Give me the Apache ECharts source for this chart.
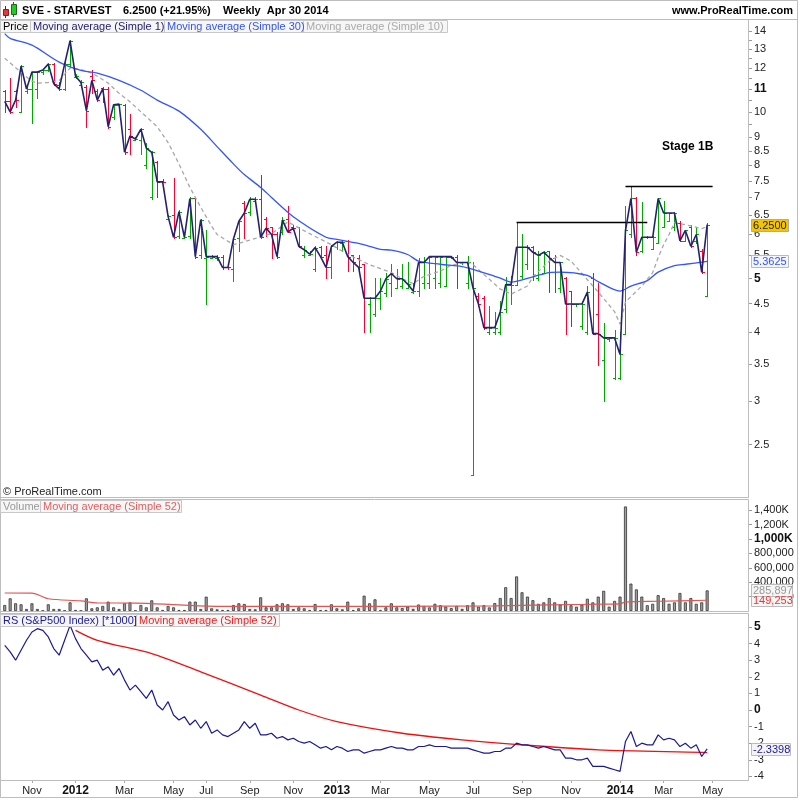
<!DOCTYPE html>
<html><head><meta charset="utf-8">
<script src="https://cdn.jsdelivr.net/npm/echarts@6/dist/echarts.min.js"></script>
<style>html,body{margin:0;padding:0;background:#fff}#c{width:800px;height:800px}</style>
</head><body><div id="c"></div><script>
const dates = ['2011-10-03','2011-10-10','2011-10-17','2011-10-24','2011-10-31','2011-11-07','2011-11-14','2011-11-21','2011-11-28','2011-12-05','2011-12-12','2011-12-19','2011-12-26',
'2012-01-02','2012-01-09','2012-01-16','2012-01-23','2012-01-30','2012-02-06','2012-02-13','2012-02-20','2012-02-27','2012-03-05','2012-03-12','2012-03-19','2012-03-26','2012-04-02','2012-04-09','2012-04-16','2012-04-23','2012-04-30','2012-05-07','2012-05-14','2012-05-21','2012-06-04','2012-06-11','2012-06-25','2012-07-02','2012-07-09','2012-07-16','2012-07-23','2012-07-30','2012-08-06','2012-08-20','2012-08-27','2012-09-03','2012-09-10','2012-09-17','2012-09-24','2012-10-01','2012-10-15','2012-10-22','2012-10-29','2012-11-05','2012-11-12','2012-11-19','2012-11-26','2012-12-03','2012-12-10','2012-12-17','2012-12-31',
'2013-01-07','2013-01-14','2013-01-21','2013-01-28','2013-02-04','2013-02-11','2013-02-18','2013-02-25','2013-03-04','2013-03-11','2013-03-18','2013-03-25','2013-04-01','2013-04-08','2013-04-15','2013-04-22','2013-04-29','2013-05-06','2013-05-13','2013-05-20','2013-05-27','2013-06-03','2013-06-10','2013-06-17','2013-06-24','2013-07-01','2013-07-08','2013-07-15','2013-07-22','2013-07-29','2013-08-05','2013-08-12','2013-08-19','2013-08-26','2013-09-02','2013-09-09','2013-09-16','2013-09-23','2013-09-30','2013-10-07','2013-10-14','2013-10-21','2013-10-28','2013-11-04','2013-11-11','2013-11-18','2013-11-25','2013-12-02','2013-12-09','2013-12-16','2013-12-23','2013-12-30',
'2014-01-06','2014-01-13','2014-01-20','2014-01-27','2014-02-03','2014-02-10','2014-02-17','2014-02-24','2014-03-03','2014-03-10','2014-03-17','2014-03-24','2014-03-31','2014-04-07','2014-04-14','2014-04-21','2014-04-28','2014-05-05','2014-05-12','2014-05-19','2014-05-26','2014-06-02','2014-06-09','2014-06-16'];

const opens = [10.9,10.45,10.9,10.0,10.9,11.0,11.0,11.8,11.9,12.2, 11.2,11.0,12.2,11.55,11.2,11.1,11.6,10.9,11.05,11.0, 9.8,10.3,10.3,9.3,8.9,8.9,8.0,7.0,8.1,7.5, 6.4,6.5,5.95,5.9,5.95,6.97,5.5,5.45,5.45,5.45, 5.47,5.25,5.2,5.9,6.85,6.6,6.9,6.95,6.4,6.2, 6.0,6.05,6.4,6.2,6.2,5.5,5.5,5.2,5.7,5.5, 5.25,5.7,5.8,5.85,5.5,5.45,5.3,4.5,4.3,4.6, 4.7,4.9,4.8,4.85,4.8,4.72,4.75,4.9,4.9,5.0, 4.9,4.85,5.47,5.47,5.34,4.9,2.2,4.65,4.6,4.0, 4.0,4.0,4.4,4.87,4.87,5.05,5.3,5.7,5.0,5.1, 5.6,5.45,4.8,5.0,4.75,4.49,4.1,4.0,5.0,4.3, 3.55,3.88,3.3,3.3,3.97,6.0,6.97,5.6,5.93,5.65, 5.8,6.2,6.35,6.2,6.3,5.85,6.2,5.85,5.6,4.65];
const highs = [10.95,11.5,10.95,12.15,11.1,11.8,11.85,11.9,12.25,12.25, 11.3,12.3,13.5,11.7,11.4,11.2,11.9,11.0,11.1,11.1, 10.35,10.35,10.35,9.9,9.0,9.35,8.8,8.5,8.15,7.55, 6.5,7.6,6.65,6.0,7.0,7.0,6.4,6.1,5.5,5.5, 5.5,5.25,5.9,6.35,6.9,7.0,7.0,7.7,6.45,6.2, 6.05,6.45,6.75,6.25,6.2,5.72,5.6,5.72,5.72,5.72, 5.75,5.85,5.85,5.87,5.5,5.5,5.3,4.62,5.0,5.0, 5.1,5.3,5.2,5.3,5.35,4.9,5.45,5.47,5.48,5.48, 5.48,5.48,5.48,5.5,5.34,5.48,5.34,4.7,4.65,4.45, 4.35,4.55,5.03,5.05,6.32,6.0,5.75,5.72,5.6,5.6, 5.6,5.5,5.36,5.02,4.75,4.5,4.5,4.85,5.1,4.9, 4.15,3.92,4.03,4.0,6.75,7.33,7.0,6.87,5.95,5.95, 6.98,6.9,6.56,6.6,6.35,6.1,6.25,6.2,5.65,6.3];
const lows = [10.0,9.95,10.2,10.0,10.8,9.55,10.6,11.7,11.85,11.2, 10.95,10.95,12.1,11.5,11.2,9.4,10.8,10.45,10.4,9.35, 9.7,10.3,8.4,8.4,8.9,8.4,7.9,6.95,7.0,7.45, 6.4,5.9,5.9,5.9,5.9,5.45,5.45,4.5,5.45,5.4, 5.2,5.2,4.95,5.6,5.9,6.5,6.9,5.9,5.95,5.45, 5.45,6.0,6.05,6.1,5.7,5.47,5.5,5.15,5.45,5.0, 5.0,5.65,5.6,5.15,5.15,5.15,4.0,4.0,4.27,4.4, 4.65,4.65,4.8,4.8,4.8,4.7,4.65,4.8,4.8,4.8, 4.82,4.85,5.45,4.8,5.3,4.8,2.2,4.45,4.05,3.97, 3.97,3.97,4.35,4.5,4.87,5.0,5.2,4.97,4.97,5.1, 4.73,4.73,4.73,3.97,4.1,4.45,4.05,3.97,3.97,3.49, 3.0,3.85,3.29,3.29,3.97,5.93,5.5,5.57,5.9,5.65, 5.8,6.2,6.35,6.1,5.84,5.84,5.7,5.8,5.1,4.65];
const closes = [10.45,10.0,10.5,12.1,11.0,11.8,11.8,11.9,12.2,11.25, 11.0,12.2,13.45,11.6,11.3,10.05,11.4,10.5,11.0,9.4, 10.3,10.33,8.45,9.04,8.93,9.3,8.6,8.45,7.47,7.47, 6.47,5.93,6.6,5.93,6.97,5.47,6.38,5.47,5.47,5.47, 5.23,5.23,5.89,6.34,6.56,6.95,6.95,5.93,6.16,6.0, 5.47,6.37,6.06,6.16,5.71,5.63,5.53,5.68,5.47,5.23, 5.71,5.81,5.81,5.47,5.34,5.23,4.6,4.6,4.6,4.74, 4.99,5.1,4.99,4.99,4.88,4.74,5.34,5.34,5.47,5.47, 5.47,5.47,5.47,5.34,5.34,5.34,4.8,4.49,4.07,4.07, 4.07,4.35,4.87,4.87,5.69,5.69,5.69,5.57,5.5,5.57, 5.45,5.34,5.34,4.49,4.49,4.49,4.49,4.72,3.97,3.97, 3.9,3.9,3.9,3.64,6.1,6.97,5.57,5.93,5.93,5.93, 6.97,6.56,6.56,6.56,5.84,6.1,5.71,6.0,5.125,6.25];

const ma30 = [[0,13.85],[1,13.58],[5,13.2],[10,12.3],[14,11.88],[17,11.75],[21,11.4],[25,10.94],[28,10.5],[32,10.03],[36,9.3],[39,8.65],[42,8.05],[44,7.7],[47,7.3],[49,7.0],[53,6.46],[59,5.93],[61,5.88],[65,5.78],[69,5.64],[71,5.62],[74,5.52],[76,5.37],[80,5.3],[84,5.25],[86,5.19],[90,5.04],[91,5.0],[93,4.92],[97,5.03],[100,5.12],[102,5.13],[107,5.06],[109,4.93],[113,4.74],[115,4.84],[118,4.95],[120,5.13],[123,5.27],[125,5.3],[129,5.3625]];
const ma10 = [[0,12.5],[3,11.79],[5,11.36],[6,11.27],[8,11.3],[10,11.4],[12,12.0],[14,11.93],[16,11.75],[17,11.6],[19,11.27],[21,10.8],[23,10.43],[25,10.0],[27,9.6],[28,9.4],[30,8.8],[32,8.05],[34,7.3],[36,6.72],[38,6.21],[39,6.0],[42,5.75],[44,5.82],[47,5.94],[49,6.02],[52,6.32],[56,6.02],[60,5.75],[63,5.52],[67,5.29],[71,5.12],[73,4.99],[75,4.89],[77,5.04],[80,5.15],[82,5.28],[85,5.35],[86,5.29],[88,5.08],[91,4.78],[93,4.68],[96,4.84],[97,5.03],[100,5.37],[102,5.5],[104,5.37],[106,5.1],[109,4.72],[112,4.35],[113,4.13],[114,4.53],[117,4.84],[119,5.12],[120,5.45],[121,5.75],[122,6.0],[123,6.3],[125,6.25],[128,6.15],[129,6.2]];

const volumes = [83000,176000,107000,93000,28000,107000,28000,5000,93000,28000, 28000,5000,120000,14000,5000,176000,37000,51000,70000,130000, 51000,28000,107000,120000,5000,83000,51000,148000,51000,14000, 70000,51000,14000,14000,130000,130000,28000,199000,37000,23000, 14000,14000,83000,107000,97000,28000,23000,190000,51000,51000, 93000,107000,93000,28000,51000,37000,14000,97000,14000,14000, 93000,37000,23000,130000,14000,37000,213000,107000,162000,14000, 51000,107000,51000,40000,60000,30000,90000,70000,50000,100000, 80000,60000,40000,70000,30000,80000,120000,60000,80000,50000, 110000,180000,330000,180000,480000,260000,200000,150000,100000,120000, 180000,120000,90000,140000,80000,60000,90000,170000,120000,200000, 280000,60000,140000,200000,1450000,380000,300000,200000,80000,100000, 220000,180000,100000,120000,250000,120000,180000,100000,120000,285897];
const volMa52 = [[0,250000],[5,248000],[8,170000],[14,140000],[17,112000],[24,110000],[32,85000],[39,65000],[72,65000],[90,72000],[100,85000],[110,95000],[113,100000],[114,125000],[120,135000],[129,149253]];

const rs = [3.9,3.5,3.0,3.6,4.2,4.7,4.9,4.8,4.4,3.7, 3.3,4.2,5.1,4.3,3.7,3.3,2.9,3.0,2.4,2.6, 2.1,2.5,1.8,1.2,1.5,1.1,0.7,1.2,0.3,0.0, 0.5,-0.3,-0.6,-0.4,-0.9,-0.6,-1.1,-0.7,-1.4,-1.2, -1.5,-1.6,-1.4,-1.2,-0.7,-1.1,-0.8,-1.5,-1.5,-1.4, -1.7,-1.6,-1.8,-1.7,-1.9,-2.0,-1.9,-2.1,-2.3,-2.2, -2.4,-2.2,-2.3,-2.5,-2.4,-2.4,-2.6,-2.5,-2.4,-2.4, -2.3,-2.2,-2.3,-2.3,-2.4,-2.4,-2.2,-2.2,-2.1,-2.2, -2.2,-2.2,-2.3,-2.3,-2.3,-2.3,-2.4,-2.5,-2.6,-2.6, -2.5,-2.5,-2.3,-2.3,-2.0,-2.1,-2.1,-2.2,-2.3,-2.2, -2.3,-2.4,-2.4,-2.9,-2.9,-3.0,-3.0,-2.9,-3.4,-3.4, -3.4,-3.5,-3.6,-3.7,-1.9,-1.3,-2.2,-2.0,-2.1,-2.1, -1.5,-1.8,-1.7,-1.8,-2.2,-2.0,-2.3,-2.1,-2.8,-2.3398];
const rsMa52 = [[13,4.8],[17,4.2],[27,3.4],[36,2.3],[47,0.9],[54,0.0],[61,-0.7],[73,-1.4],[84,-1.8],[95,-2.1],[109,-2.4],[128,-2.55],[129,-2.57]];

const levels = [[94,118,6.32],[114,130,7.33]];
const priceTicks = [14,13.5,13,12.5,12,11.5,11,10.5,10,9.5,9,8.5,8,7.5,7,6.5,6,5.5,5,4.5,4,3.5,3,2.5];
const priceLabels = [14,13,12,11,10,9,8.5,8,7.5,7,6.5,6,5.5,5,4.5,4,3.5,3,2.5];
const volLabels = [200000,400000,600000,800000,1000000,1200000,1400000];
const rsLabels = [5,4,3,2,1,0,-1,-2,-3,-4];
const monthNames = ['Jan','Feb','Mar','Apr','May','Jun','Jul','Aug','Sep','Oct','Nov','Dec'];

const FONT = '"Liberation Sans", Arial, Helvetica, sans-serif';
const UP = '#00a800', DOWN = '#ff0033';
const chart = echarts.init(document.getElementById('c'), null, {width:800, height:800});

function isMonthLabel(idx) {
  if (idx === 0) return false;
  const m = +dates[idx].slice(5,7), pm = +dates[idx-1].slice(5,7);
  return m !== pm && m % 2 === 1;
}
const ohlc = closes.map((c,i)=>[i, opens[i], highs[i], lows[i], c]);
function renderBar(params, api) {
  const i = api.value(0), o = api.value(1), h = api.value(2), l = api.value(3), c = api.value(4);
  const ph = api.coord([i,h]), pl = api.coord([i,l]), po = api.coord([i,o]), pc = api.coord([i,c]);
  const x = Math.round(ph[0]) + 0.5;
  const st = {stroke: c >= o ? UP : DOWN, lineWidth: 1};
  const yo = Math.round(po[1]) + 0.5, yc = Math.round(pc[1]) + 0.5;
  return {type:'group', children:[
    {type:'line', shape:{x1:x, y1:Math.round(ph[1]), x2:x, y2:Math.round(pl[1])+1}, style:st},
    {type:'line', shape:{x1:x-2.5, y1:yo, x2:x, y2:yo}, style:st},
    {type:'line', shape:{x1:x, y1:yc, x2:x+2.5, y2:yc}, style:st}
  ]};
}
const axisLab = {fontSize:11, color:'#222', fontFamily:FONT, margin:6};
const hiddenX = (g)=>({type:'category', gridIndex:g, data:dates, boundaryGap:true, show:false});

const option = {
  animation:false,
  backgroundColor:'#fff',
  textStyle:{fontFamily:FONT},
  grid:[
    {left:2, right:52, top:20, height:477, outerBoundsMode:'none'},
    {left:2, right:52, top:500, height:111, outerBoundsMode:'none'},
    {left:2, right:52, top:614, height:166, outerBoundsMode:'none'}
  ],
  xAxis:[hiddenX(0), hiddenX(1), {
    type:'category', gridIndex:2, data:dates, boundaryGap:true, position:'bottom',
    axisLine:{show:true, onZero:false, lineStyle:{color:'#aaa'}},
    axisTick:{show:true, interval:(i)=>isMonthLabel(i), alignWithLabel:true, length:3, lineStyle:{color:'#aaa'}},
    axisLabel:{interval:(i)=>isMonthLabel(i), fontSize:11, color:'#222', fontFamily:FONT, margin:5,
      formatter:(v)=>{const m=+v.slice(5,7); return m===1 ? '{b|'+v.slice(0,4)+'}' : monthNames[m-1];},
      rich:{b:{fontWeight:'bold', fontSize:12, color:'#111', fontFamily:FONT}}},
    splitLine:{show:false}
  }],
  yAxis:[
    {type:'log', logBase:10, gridIndex:0, position:'right', min:2.01, max:14.66,
     axisLine:{show:true, lineStyle:{color:'#aaa'}},
     axisTick:{show:true, length:4, customValues:priceTicks, lineStyle:{color:'#999'}},
     axisLabel:Object.assign({}, axisLab, {customValues:priceLabels,
       formatter:(v)=>{const r=+(+v).toFixed(2); return (r===11||r===5)?'{b|'+r+'}':String(r);},
       rich:{b:{fontWeight:'bold', fontSize:12, color:'#111', fontFamily:FONT}}}),
     splitLine:{show:false}, minorTick:{show:false}, minorSplitLine:{show:false}},
    {type:'value', gridIndex:1, position:'right', min:0, max:1540000,
     axisLine:{show:true, lineStyle:{color:'#aaa'}},
     axisTick:{show:true, length:4, customValues:volLabels, lineStyle:{color:'#999'}},
     axisLabel:Object.assign({}, axisLab, {customValues:volLabels,
       formatter:(v)=>{ if (v>=1000000){const s=(v/1000).toLocaleString('en-US')+'K'; return v===1000000?'{b|'+s+'}':s;} return v.toLocaleString('en-US');},
       rich:{b:{fontWeight:'bold', fontSize:12, color:'#111', fontFamily:FONT}}}),
     splitLine:{show:false}},
    {type:'value', gridIndex:2, position:'right', min:-4.217, max:5.783,
     axisLine:{show:true, lineStyle:{color:'#aaa'}},
     axisTick:{show:true, length:4, customValues:rsLabels, lineStyle:{color:'#999'}},
     axisLabel:Object.assign({}, axisLab, {customValues:rsLabels,
       formatter:(v)=> (v===5||v===0)?'{b|'+v+'}':String(v),
       rich:{b:{fontWeight:'bold', fontSize:12, color:'#111', fontFamily:FONT}}}),
     splitLine:{show:false}}
  ],
  series:[
    {type:'custom', name:'Price', xAxisIndex:0, yAxisIndex:0, renderItem:renderBar, data:ohlc, encode:{x:0, y:[1,2,3,4]}, z:2},
    {type:'line', name:'MA10', xAxisIndex:0, yAxisIndex:0, data:ma10, showSymbol:false, symbol:'none',
     lineStyle:{color:'#a8a8a8', width:1.3, type:[4,3]}, z:3},
    {type:'line', name:'MA30', xAxisIndex:0, yAxisIndex:0, data:ma30, showSymbol:false, symbol:'none', smooth:0.3,
     lineStyle:{color:'#3355ff', width:1.3}, z:4},
    {type:'line', name:'Close', xAxisIndex:0, yAxisIndex:0, data:closes, showSymbol:false, symbol:'none',
     lineStyle:{color:'#222270', width:1.6}, z:5,
     markLine:{silent:true, symbol:'none', animation:false, label:{show:false},
       lineStyle:{color:'#000', width:1.4, type:'solid'},
       data:levels.map(([a,b,v])=>[{coord:[dates[a],v]},{coord:[dates[b],v]}])}},
    {type:'bar', name:'Volume', xAxisIndex:1, yAxisIndex:1, data:volumes, barWidth:3,
     itemStyle:{color:'#a0a0a0', borderColor:'#333', borderWidth:0.8}, z:2},
    {type:'line', name:'VolMA', xAxisIndex:1, yAxisIndex:1, data:volMa52, showSymbol:false, symbol:'none', smooth:0.3,
     lineStyle:{color:'#e05555', width:1.2}, z:3},
    {type:'line', name:'RS', xAxisIndex:2, yAxisIndex:2, data:rs, showSymbol:false, symbol:'none',
     lineStyle:{color:'#1a1a99', width:1.2}, z:3},
    {type:'line', name:'RSMA', xAxisIndex:2, yAxisIndex:2, data:rsMa52, showSymbol:false, symbol:'none', smooth:0.3,
     lineStyle:{color:'#ee1111', width:1.3}, z:2}
  ]
};
chart.setOption(option);

function legendBox(x, y, w, text, color) {
  return [
    {type:'rect', shape:{x:x+0.5, y:y+0.5, width:w, height:12}, style:{fill:'#f6f6f6', stroke:'#c8c8c8', lineWidth:1}, z:50},
    {type:'text', style:{x:x+3, y:y+7, text:text, fill:color, font:'11px '+FONT, verticalAlign:'middle'}, z:51}
  ];
}
function valueBox(y, w, text, fill, color, stroke) {
  return [
    {type:'rect', shape:{x:751.5, y:Math.round(y-6)+0.5, width:w, height:12}, style:{fill:fill, stroke:stroke, lineWidth:1}, z:60},
    {type:'text', style:{x:753, y:Math.round(y)+0.5, text:text, fill:color, font:'11px '+FONT, verticalAlign:'middle'}, z:61}
  ];
}
const yPrice = chart.convertToPixel({yAxisIndex:0}, closes[closes.length-1]);
const yMa30 = chart.convertToPixel({yAxisIndex:0}, ma30[ma30.length-1][1]);
const yVol = chart.convertToPixel({yAxisIndex:1}, volumes[volumes.length-1]);
const yVolMa = chart.convertToPixel({yAxisIndex:1}, volMa52[volMa52.length-1][1]);
const yRs = chart.convertToPixel({yAxisIndex:2}, rs[rs.length-1]);
const yRsMa = chart.convertToPixel({yAxisIndex:2}, rsMa52[rsMa52.length-1][1]);

const line = (x1,y1,x2,y2)=>({type:'line', shape:{x1,y1,x2,y2}, style:{stroke:'#bdbdbd', lineWidth:1}, z:40});
const g = [
  {type:'rect', shape:{x:0.5, y:0.5, width:797, height:797}, style:{fill:null, stroke:'#bdbdbd', lineWidth:1}, z:40},
  line(0,19.5,798,19.5),
  {type:'rect', shape:{x:0.5, y:19.5, width:748, height:478}, style:{fill:null, stroke:'#bdbdbd', lineWidth:1}, z:40},
  {type:'rect', shape:{x:0.5, y:499.5, width:748, height:112}, style:{fill:null, stroke:'#bdbdbd', lineWidth:1}, z:40},
  {type:'rect', shape:{x:0.5, y:613.5, width:748, height:167}, style:{fill:null, stroke:'#bdbdbd', lineWidth:1}, z:40},
  {type:'line', shape:{x1:5.5,y1:6,x2:5.5,y2:18}, style:{stroke:'#662222', lineWidth:1}, z:50},
  {type:'rect', shape:{x:3.5, y:9.5, width:5, height:6}, style:{fill:'#e33', stroke:'#822', lineWidth:1}, z:51},
  {type:'line', shape:{x1:13.5,y1:2,x2:13.5,y2:17}, style:{stroke:'#226622', lineWidth:1}, z:50},
  {type:'rect', shape:{x:11.5, y:4.5, width:5, height:10}, style:{fill:'#2c2', stroke:'#262', lineWidth:1}, z:51},
  {type:'text', style:{x:22, y:11, text:'SVE - STARVEST', fill:'#000', font:'bold 11px '+FONT, verticalAlign:'middle'}, z:50},
  {type:'text', style:{x:123, y:11, text:'6.2500 (+21.95%)', fill:'#000', font:'bold 11px '+FONT, verticalAlign:'middle'}, z:50},
  {type:'text', style:{x:223, y:11, text:'Weekly  Apr 30 2014', fill:'#000', font:'bold 11px '+FONT, verticalAlign:'middle'}, z:50},
  {type:'text', style:{x:793, y:11, text:'www.ProRealTime.com', fill:'#000', font:'bold 11px '+FONT, align:'right', verticalAlign:'middle'}, z:50},
  ...legendBox(0,20,30,'Price','#000'),
  ...legendBox(30,20,134,'Moving average (Simple 1)','#222270'),
  ...legendBox(164,20,139,'Moving average (Simple 30)','#3355ee'),
  ...legendBox(303,20,144,'Moving average (Simple 10)','#aaaaaa'),
  ...legendBox(0,500,40,'Volume','#999999'),
  ...legendBox(40,500,141,'Moving average (Simple 52)','#e06060'),
  ...legendBox(0,614,136,'RS (S&P500 Index) [*1000]','#1a1a99'),
  ...legendBox(136,614,143,'Moving average (Simple 52)','#ee2222'),
  {type:'text', style:{x:3, y:492, text:'© ProRealTime.com', fill:'#222', font:'11px '+FONT, verticalAlign:'middle'}, z:50},
  {type:'text', style:{x:662, y:147, text:'Stage 1B', fill:'#000', font:'bold 12px '+FONT, verticalAlign:'middle'}, z:50},
  ...valueBox(yPrice, 37, '6.2500', '#f5c400', '#222', '#aaa'),
  ...valueBox(yMa30, 37, '5.3625', '#f4f6ff', '#3355ee', '#bbb'),
  ...valueBox(yVolMa, 41, '149,253', '#f6f6f6', '#ee3333', '#bbb'),
  ...valueBox(yVol, 41, '285,897', '#f6f6f6', '#999', '#bbb'),
  {type:'line', shape:{x1:753, y1:Math.round(yRsMa)+0.5, x2:789, y2:Math.round(yRsMa)+0.5}, style:{stroke:'#ee1111', lineWidth:1, lineDash:[4,2,1,2]}, z:59},
  ...valueBox(yRs, 39, '-2.3398', '#f4f4f4', '#1a1a99', '#bbb')
];
chart.setOption({graphic:g});
</script></body></html>
